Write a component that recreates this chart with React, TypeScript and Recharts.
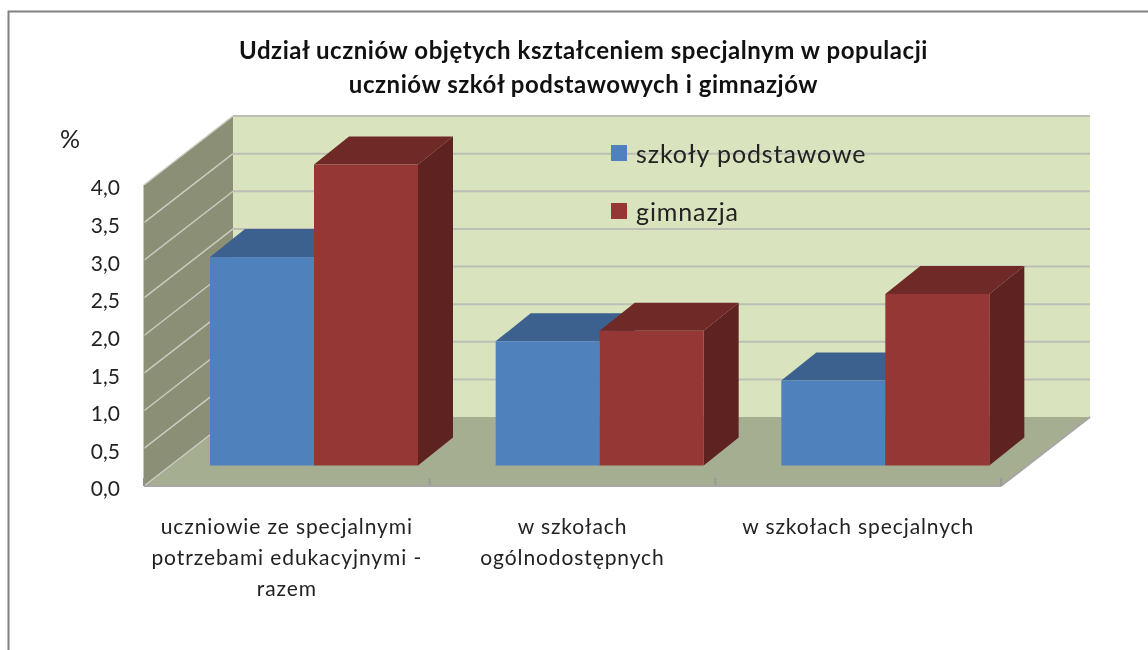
import { Bar, BarChart, Legend, XAxis, YAxis } from "recharts";

const categories = [
  "uczniowie ze specjalnymi potrzebami edukacyjnymi - razem",
  "w szkołach ogólnodostępnych",
  "w szkołach specjalnych",
];
const categoryLines = [
  ["uczniowie ze specjalnymi", "potrzebami edukacyjnymi -", "razem"],
  ["w szkołach", "ogólnodostępnych"],
  ["w szkołach specjalnych"],
];
const szkolyPodstawowe = [2.77, 1.65, 1.13];
const gimnazja = [4.0, 1.79, 2.28];
const yTicks = [0, 0.5, 1, 1.5, 2, 2.5, 3, 3.5, 4];
const titleLines = [
  "Udział uczniów objętych kształceniem specjalnym w populacji",
  "uczniów szkół podstawowych i gimnazjów",
];

const data = categories.map((name, i) => ({
  name,
  podstawowe: szkolyPodstawowe[i],
  gimnazja: gimnazja[i],
}));

const FONT = "Lato, 'Open Sans', sans-serif";
const W = 1148;
const H = 650;
// plot box = front plane of the 3d chart
const P = { left: 144, top: 185, right: 1001, bottom: 486 };
const WALL_DX = 89;
const WALL_DY = -69;
// bars stand part way into the floor
const BAR_DX = 27;
const BAR_DY = -20.5;
const DEPTH_X = 35;
const DEPTH_Y = -28;

function Bar3D(props: any) {
  const { x, y, width, height, fill, topFill, sideFill } = props;
  const l = x + BAR_DX;
  const r = l + width;
  const t = y + BAR_DY;
  const b = t + height;
  return (
    <g>
      <polygon
        points={`${l},${t} ${r},${t} ${r + DEPTH_X},${t + DEPTH_Y} ${l + DEPTH_X},${t + DEPTH_Y}`}
        fill={topFill}
      />
      <polygon
        points={`${r},${t} ${r + DEPTH_X},${t + DEPTH_Y} ${r + DEPTH_X},${b + DEPTH_Y} ${r},${b}`}
        fill={sideFill}
      />
      <rect x={l} y={t} width={width} height={height} fill={fill} />
    </g>
  );
}

function CategoryTick({ x, y, index }: any) {
  return (
    <g>
      {categoryLines[index].map((line, i) => (
        <text
          key={line}
          x={x}
          y={y + 40 + i * 31}
          textAnchor="middle"
          fontFamily={FONT}
          fontSize={21}
          letterSpacing={0.9}
          fill="#222"
        >
          {line}
        </text>
      ))}
    </g>
  );
}

function LegendBox({ payload }: any) {
  return (
    <div style={{ position: "relative", fontFamily: FONT, fontSize: 25, color: "#222" }}>
      {(payload ?? []).map((p: any, i: number) => (
        <div
          key={p.value}
          style={{ position: "absolute", left: 0, top: i * 58, display: "flex", alignItems: "center", height: 30, whiteSpace: "nowrap" }}
        >
          <span style={{ width: 16, height: 16, background: p.color, marginRight: 9 }} />
          <span style={{ letterSpacing: 0.9 }}>{p.value}</span>
        </div>
      ))}
    </div>
  );
}

function Walls() {
  const h = P.bottom - P.top;
  const gy = (t: number) => P.bottom - (t / 4) * h;
  const bl = P.left + WALL_DX;
  const br = P.right + WALL_DX;
  const band = (P.right - P.left) / categories.length;
  const bounds = [0, 1, 2, 3].map((i) => P.left + i * band);
  return (
    <g>
      <polygon
        points={`${bl},${P.top + WALL_DY} ${br},${P.top + WALL_DY} ${br},${P.bottom + WALL_DY} ${bl},${P.bottom + WALL_DY}`}
        fill="#d9e4bf"
      />
      <polygon
        points={`${P.left},${P.top} ${bl},${P.top + WALL_DY} ${bl},${P.bottom + WALL_DY} ${P.left},${P.bottom}`}
        fill="#8a8f76"
      />
      <polygon
        points={`${P.left},${P.bottom} ${P.right},${P.bottom} ${br},${P.bottom + WALL_DY} ${bl},${P.bottom + WALL_DY}`}
        fill="#a5ae90"
      />
      {yTicks.map((t) => (
        <g key={t}>
          {t > 0 && (
            <line x1={bl} x2={br} y1={gy(t) + WALL_DY} y2={gy(t) + WALL_DY} stroke="#bdbfb4" strokeWidth={2} />
          )}
          {t > 0 && (
            <line x1={P.left} x2={bl} y1={gy(t)} y2={gy(t) + WALL_DY} stroke="#c9ccbf" strokeWidth={1.5} />
          )}
        </g>
      ))}
      <line x1={P.left} x2={bl} y1={P.bottom} y2={P.bottom + WALL_DY} stroke="#c9ccbf" strokeWidth={1.5} />
      <line x1={P.right} x2={br} y1={P.bottom} y2={P.bottom + WALL_DY} stroke="#a6a6a6" strokeWidth={2} />
      {bounds.map((bx) => (
        <line key={bx} x1={bx} x2={bx} y1={P.bottom} y2={P.bottom - 8} stroke="#9a9a9a" strokeWidth={2} />
      ))}
      <path d={`M8.5 650 V11.5 H${W}`} fill="none" stroke="#808080" strokeWidth={2} />
    </g>
  );
}

export default function App() {
  return (
    <div style={{ position: "fixed", left: 0, top: 0, width: W, height: H, background: "#fff", filter: "blur(0.6px)" }}>
      <BarChart
        width={W}
        height={H}
        data={data}
        margin={{ left: 0, top: P.top, right: W - P.right, bottom: 0 }}
        barCategoryGap="13.5%"
        barGap={0}
        barSize={104}
      >
        <Walls />
        {titleLines.map((line, i) => (
          <text
            key={line}
            x={583.5}
            y={59 + i * 34}
            textAnchor="middle"
            fontFamily={FONT}
            fontWeight={700}
            fontSize={24}
            letterSpacing={0.55}
            fill="#111"
          >
            {line}
          </text>
        ))}
        <text x={60} y={148} fontFamily={FONT} fontSize={25} fill="#222">
          %
        </text>
        <XAxis
          dataKey="name"
          height={H - P.bottom}
          interval={0}
          tickLine={false}
          axisLine={{ stroke: "#a6a6a6", strokeWidth: 2 }}
          tick={<CategoryTick />}
        />
        <YAxis
          width={P.left}
          domain={[0, 4]}
          ticks={yTicks}
          interval={0}
          tickLine={false}
          axisLine={{ stroke: "#8a8f76" }}
          tickMargin={18}
          tickFormatter={(v: number) => v.toFixed(1).replace(".", ",")}
          tick={{ fontFamily: FONT, fontSize: 21, fill: "#222", dy: 3 }}
        />
        <Legend
          layout="horizontal"
          verticalAlign="middle"
          align="center"
          itemSorter={null}
          wrapperStyle={{ position: "absolute", left: 611, top: 138, width: 300, height: 100 }}
          content={<LegendBox />}
        />
        <Bar
          dataKey="podstawowe"
          name="szkoły podstawowe"
          fill="#4f81bd"
          isAnimationActive={false}
          shape={<Bar3D topFill="#3c618f" sideFill="#2f4d72" />}
        />
        <Bar
          dataKey="gimnazja"
          name="gimnazja"
          fill="#953735"
          isAnimationActive={false}
          shape={<Bar3D topFill="#6f2926" sideFill="#5e2220" />}
        />
      </BarChart>
    </div>
  );
}
